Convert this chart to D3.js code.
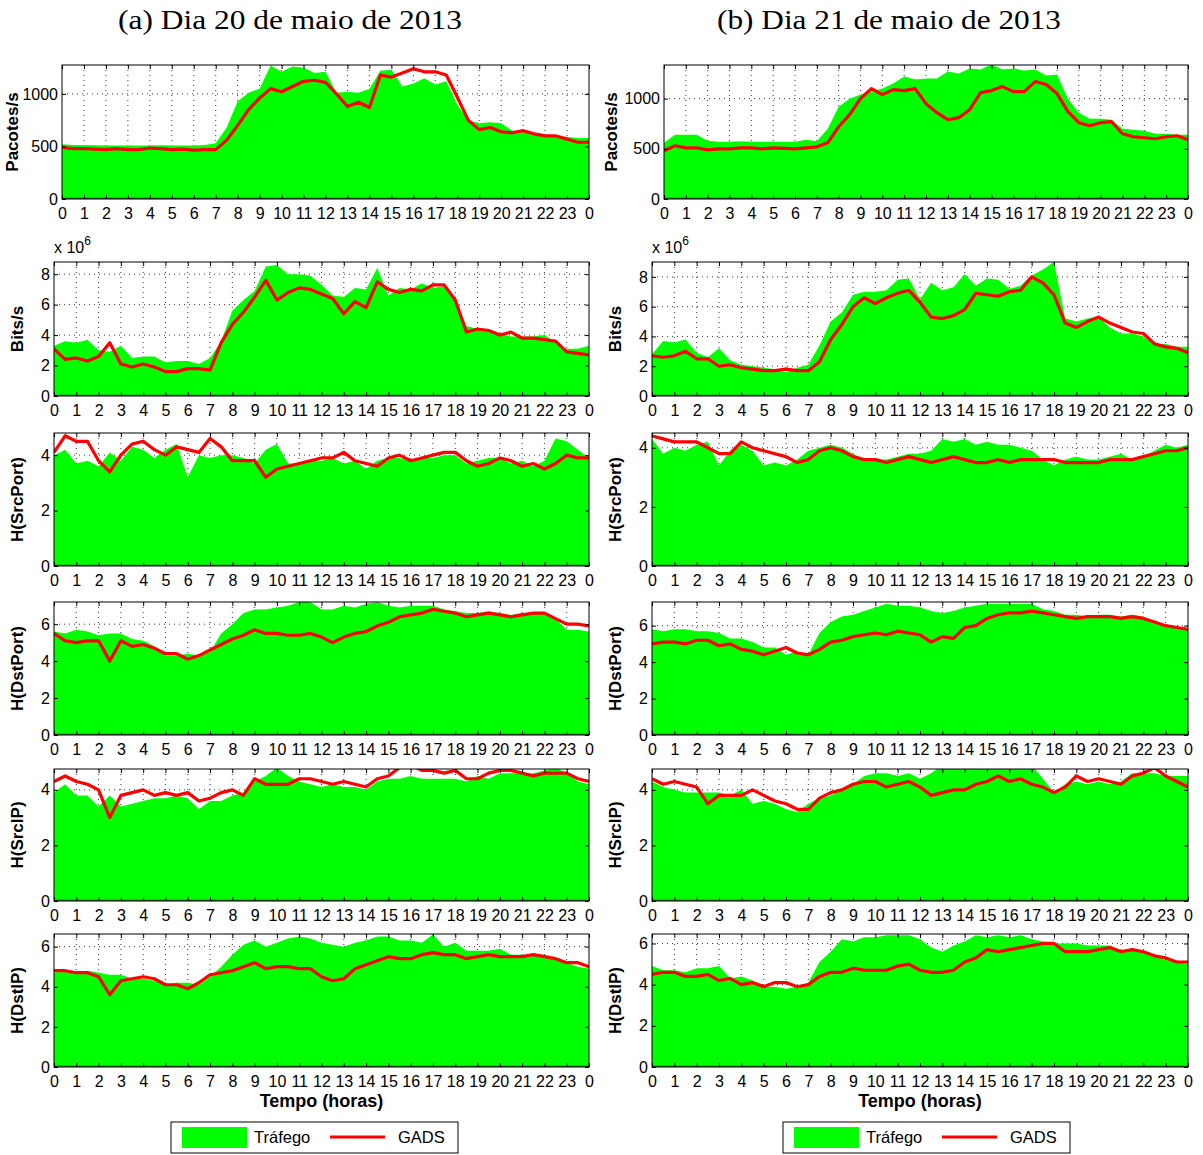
<!DOCTYPE html>
<html>
<head>
<meta charset="utf-8">
<script src="https://cdn.jsdelivr.net/npm/d3@7"></script>
<style>
  body { margin: 0; background: #fff; }
  svg { display: block; }
</style>
</head>
<body>
<div id="chart"></div>
<script>
// one value every half hour, 0h .. 24h (49 points per series)
var hourTicks = d3.range(0, 25);

// Pacotes/s
var pktTrafA = [520, 515, 515, 512, 510, 510, 508, 510, 510, 512, 510, 510,
  510, 515, 530, 680, 930, 1010, 1050, 1270, 1210, 1260, 1250, 1200,
  1210, 1010, 1020, 1010, 1050, 1220, 1230, 1070, 1100, 1150, 1090, 1120,
  900, 750, 720, 730, 720, 650, 640, 620, 610, 600, 590, 580, 580];
var pktGadsA = [490, 480, 480, 475, 470, 480, 470, 470, 485, 480, 470, 475,
  465, 470, 470, 560, 700, 850, 960, 1050, 1020, 1070, 1120, 1130,
  1110, 1000, 880, 920, 870, 1180, 1160, 1200, 1240, 1210, 1210, 1180,
  970, 750, 660, 680, 640, 630, 650, 620, 600, 600, 570, 540, 540];
var pktTrafB = [560, 640, 640, 640, 580, 570, 570, 575, 570, 570, 570, 570,
  570, 590, 575, 700, 920, 1000, 1040, 1070, 1100, 1150, 1220, 1190,
  1200, 1200, 1270, 1250, 1300, 1290, 1340, 1290, 1300, 1280, 1290, 1230,
  1240, 1000, 860, 800, 800, 790, 700, 690, 680, 650, 650, 640, 640];
var pktGadsB = [480, 530, 510, 510, 490, 500, 500, 510, 510, 500, 510, 505,
  500, 510, 520, 560, 720, 840, 1000, 1100, 1040, 1090, 1080, 1100,
  950, 860, 790, 810, 890, 1060, 1080, 1120, 1070, 1070, 1170, 1140,
  1050, 870, 760, 730, 760, 770, 650, 620, 610, 600, 620, 630, 590];

// Bits/s (x 10^6)
var bitTrafA = [3.3, 3.6, 3.5, 3.7, 3.0, 2.9, 3.3, 2.5, 2.6, 2.6, 2.2, 2.3,
  2.3, 2.1, 2.5, 3.6, 5.6, 6.3, 6.9, 8.5, 8.6, 8.0, 8.0, 7.9,
  7.3, 6.6, 6.5, 7.1, 7.0, 8.4, 6.6, 7.1, 7.0, 7.4, 7.1, 7.2,
  6.4, 4.6, 4.4, 4.4, 4.1, 3.9, 3.9, 3.9, 4.0, 3.5, 3.1, 3.1, 3.3];
var bitGadsA = [3.1, 2.4, 2.5, 2.3, 2.6, 3.5, 2.1, 1.9, 2.1, 1.9, 1.6, 1.6,
  1.8, 1.8, 1.7, 3.5, 4.7, 5.5, 6.5, 7.6, 6.3, 6.8, 7.1, 7.0,
  6.7, 6.4, 5.4, 6.2, 5.8, 7.5, 7.0, 6.8, 7.0, 6.9, 7.3, 7.3,
  6.3, 4.2, 4.4, 4.3, 4.0, 4.2, 3.8, 3.8, 3.7, 3.6, 2.9, 2.8, 2.7];
var bitTrafB = [2.8, 3.7, 3.6, 3.8, 2.9, 2.6, 3.2, 2.4, 2.1, 2.0, 1.9, 1.8,
  1.6, 1.9, 2.1, 3.4, 5.0, 5.6, 6.8, 7.0, 7.0, 7.1, 7.8, 7.9,
  6.5, 7.6, 7.1, 7.3, 8.2, 7.4, 7.9, 7.8, 7.2, 7.4, 8.1, 8.5,
  9.0, 5.2, 5.0, 5.2, 5.3, 4.6, 4.2, 4.2, 4.0, 3.5, 3.5, 3.3, 3.3];
var bitGadsB = [2.7, 2.6, 2.7, 3.0, 2.5, 2.5, 2.0, 2.1, 1.9, 1.8, 1.7, 1.7,
  1.8, 1.7, 1.7, 2.3, 3.8, 4.8, 6.0, 6.6, 6.2, 6.6, 6.9, 7.1,
  6.3, 5.3, 5.2, 5.4, 5.8, 6.9, 6.8, 6.7, 7.0, 7.1, 8.0, 7.6,
  6.8, 4.9, 4.6, 5.0, 5.3, 4.9, 4.6, 4.3, 4.2, 3.5, 3.3, 3.2, 2.9];

// H(SrcPort)
var srcPortTrafA = [4.0, 4.2, 3.7, 3.8, 3.6, 4.1, 3.8, 4.3, 4.2, 3.9, 4.2, 4.4,
  3.2, 4.0, 3.9, 4.0, 4.0, 3.9, 3.7, 4.2, 4.4, 3.7, 3.7, 3.8,
  3.8, 3.9, 3.7, 3.8, 3.5, 3.8, 3.9, 3.9, 3.8, 3.9, 3.9, 4.0,
  4.0, 3.7, 3.8, 3.9, 3.9, 3.7, 3.8, 3.6, 3.8, 4.6, 4.5, 4.2, 3.9];
var srcPortGadsA = [4.1, 4.7, 4.5, 4.5, 3.8, 3.4, 4.0, 4.4, 4.5, 4.2, 4.0, 4.3,
  4.2, 4.1, 4.6, 4.3, 3.8, 3.8, 3.8, 3.2, 3.5, 3.6, 3.7, 3.8,
  3.9, 3.9, 4.1, 3.8, 3.7, 3.6, 3.9, 4.0, 3.8, 3.9, 4.0, 4.1,
  4.1, 3.8, 3.6, 3.7, 3.9, 3.8, 3.6, 3.7, 3.5, 3.7, 4.0, 3.9, 3.9];
var srcPortTrafB = [4.3, 3.8, 4.0, 3.9, 4.1, 4.2, 3.4, 3.9, 4.1, 3.9, 3.4, 3.5,
  3.4, 3.6, 3.9, 4.0, 4.1, 4.0, 3.8, 3.6, 3.6, 3.6, 3.7, 3.8,
  3.8, 3.9, 4.3, 4.2, 4.3, 4.1, 4.2, 4.1, 4.1, 4.0, 3.9, 3.6,
  3.4, 3.6, 3.7, 3.6, 3.6, 3.7, 3.8, 3.6, 3.7, 3.9, 4.1, 4.0, 4.1];
var srcPortGadsB = [4.4, 4.3, 4.2, 4.2, 4.2, 4.0, 3.8, 3.8, 4.2, 4.0, 3.9, 3.8,
  3.7, 3.5, 3.6, 3.9, 4.0, 3.9, 3.7, 3.6, 3.6, 3.5, 3.6, 3.7,
  3.6, 3.5, 3.6, 3.7, 3.6, 3.5, 3.5, 3.6, 3.5, 3.6, 3.6, 3.6,
  3.6, 3.5, 3.5, 3.5, 3.5, 3.6, 3.6, 3.6, 3.7, 3.8, 3.9, 3.9, 4.0];

// H(DstPort)
var dstPortTrafA = [5.6, 5.5, 5.7, 5.6, 5.4, 5.5, 5.5, 5.2, 5.1, 4.8, 4.3, 4.3,
  4.4, 4.3, 4.5, 5.5, 6.0, 6.6, 6.8, 6.8, 6.9, 7.0, 7.2, 7.2,
  6.8, 6.8, 7.0, 6.9, 7.1, 7.2, 7.0, 6.9, 7.0, 7.0, 7.0, 6.8,
  6.7, 6.6, 6.6, 6.7, 6.6, 6.5, 6.6, 6.6, 6.6, 6.3, 5.7, 5.7, 5.6];
var dstPortGadsA = [5.5, 5.1, 5.0, 5.1, 5.1, 4.0, 5.1, 4.8, 4.9, 4.7, 4.4, 4.4,
  4.1, 4.3, 4.6, 4.9, 5.2, 5.4, 5.7, 5.5, 5.5, 5.4, 5.4, 5.5,
  5.3, 5.0, 5.3, 5.5, 5.6, 5.9, 6.1, 6.4, 6.5, 6.6, 6.8, 6.7,
  6.6, 6.4, 6.5, 6.6, 6.5, 6.4, 6.5, 6.6, 6.6, 6.3, 6.0, 6.0, 5.9];
var dstPortTrafB = [5.8, 5.7, 5.8, 5.8, 5.7, 5.7, 5.6, 5.3, 5.3, 5.1, 4.8, 4.8,
  4.4, 4.6, 4.4, 5.6, 6.2, 6.5, 6.6, 6.8, 7.0, 7.2, 7.1, 7.1,
  7.0, 6.8, 6.7, 6.8, 7.0, 7.1, 7.2, 7.2, 7.2, 7.2, 7.2, 6.9,
  6.8, 6.6, 6.6, 6.5, 6.6, 6.6, 6.5, 6.6, 6.5, 6.2, 6.0, 5.9, 5.8];
var dstPortGadsB = [5.0, 5.1, 5.1, 5.0, 5.2, 5.2, 4.9, 5.0, 4.7, 4.6, 4.4, 4.6,
  4.8, 4.5, 4.4, 4.7, 5.1, 5.2, 5.4, 5.5, 5.6, 5.5, 5.7, 5.6,
  5.5, 5.1, 5.4, 5.3, 5.9, 6.0, 6.4, 6.6, 6.7, 6.7, 6.8, 6.7,
  6.6, 6.5, 6.4, 6.5, 6.5, 6.5, 6.4, 6.5, 6.4, 6.2, 6.0, 5.9, 5.8];

// H(SrcIP)
var srcIpTrafA = [3.9, 4.2, 3.8, 3.8, 3.4, 3.8, 3.4, 3.5, 3.6, 3.7, 3.7, 3.8,
  3.7, 3.3, 3.6, 3.6, 3.8, 3.9, 4.3, 4.5, 4.8, 4.5, 4.3, 4.2,
  4.1, 4.2, 4.1, 4.1, 4.0, 4.3, 4.4, 4.4, 4.5, 4.4, 4.4, 4.4,
  4.4, 4.3, 4.5, 4.4, 4.6, 4.6, 4.6, 4.6, 4.7, 4.8, 4.6, 4.3, 4.2];
var srcIpGadsA = [4.3, 4.5, 4.3, 4.2, 4.0, 3.0, 3.8, 3.9, 4.0, 3.8, 3.9, 3.8,
  3.9, 3.6, 3.7, 3.9, 4.0, 3.8, 4.4, 4.2, 4.2, 4.2, 4.4, 4.4,
  4.3, 4.2, 4.3, 4.2, 4.1, 4.4, 4.5, 4.8, 4.9, 4.7, 4.7, 4.6,
  4.7, 4.4, 4.4, 4.6, 4.7, 4.7, 4.6, 4.5, 4.6, 4.6, 4.6, 4.4, 4.3];
var srcIpTrafB = [4.3, 4.1, 4.0, 3.9, 3.9, 3.9, 3.9, 3.8, 4.0, 3.5, 3.6, 3.5,
  3.3, 3.2, 3.5, 3.7, 3.8, 4.0, 4.2, 4.5, 4.6, 4.6, 4.5, 4.6,
  4.4, 4.6, 4.9, 4.8, 4.8, 4.8, 4.9, 4.9, 4.9, 4.8, 4.9, 4.4,
  3.9, 4.2, 4.3, 4.2, 4.3, 4.2, 4.3, 4.6, 4.6, 4.6, 4.5, 4.5, 4.5];
var srcIpGadsB = [4.4, 4.2, 4.3, 4.2, 4.1, 3.5, 3.8, 3.8, 3.8, 4.0, 3.8, 3.6,
  3.5, 3.3, 3.3, 3.7, 3.9, 4.0, 4.2, 4.3, 4.3, 4.1, 4.2, 4.3,
  4.1, 3.8, 3.9, 4.0, 4.0, 4.2, 4.3, 4.5, 4.3, 4.4, 4.2, 4.1,
  3.9, 4.1, 4.5, 4.3, 4.4, 4.3, 4.2, 4.5, 4.6, 4.8, 4.5, 4.3, 4.1];

// H(DstIP)
var dstIpTrafA = [4.7, 4.8, 4.7, 4.8, 4.7, 4.6, 4.6, 4.4, 4.4, 4.3, 4.1, 4.2,
  4.2, 4.1, 4.5, 5.0, 5.6, 6.1, 6.3, 6.0, 6.2, 6.4, 6.5, 6.4,
  6.2, 6.1, 6.0, 6.2, 6.3, 6.5, 6.5, 6.3, 6.3, 6.2, 6.6, 6.0,
  6.2, 5.8, 5.8, 5.8, 5.9, 5.6, 5.6, 5.6, 5.6, 5.4, 5.2, 5.0, 4.9];
var dstIpGadsA = [4.8, 4.8, 4.7, 4.7, 4.5, 3.6, 4.3, 4.4, 4.5, 4.4, 4.1, 4.1,
  3.9, 4.2, 4.6, 4.7, 4.8, 5.0, 5.2, 4.9, 5.0, 5.0, 4.9, 4.9,
  4.5, 4.3, 4.4, 4.9, 5.1, 5.3, 5.5, 5.4, 5.4, 5.6, 5.7, 5.6,
  5.6, 5.4, 5.5, 5.6, 5.5, 5.5, 5.5, 5.6, 5.5, 5.4, 5.2, 5.2, 5.0];
var dstIpTrafB = [4.9, 4.7, 4.7, 4.6, 4.8, 4.8, 4.9, 4.3, 4.4, 4.2, 3.9, 3.9,
  3.8, 3.9, 4.1, 5.1, 5.6, 6.2, 6.1, 6.3, 6.3, 6.4, 6.4, 6.4,
  6.2, 5.8, 5.6, 5.9, 6.1, 6.4, 6.3, 6.4, 6.3, 6.4, 6.2, 6.1,
  6.0, 6.0, 6.0, 5.9, 5.9, 5.9, 5.7, 5.7, 5.6, 5.4, 5.2, 5.1, 5.0];
var dstIpGadsB = [4.5, 4.6, 4.6, 4.4, 4.4, 4.5, 4.2, 4.3, 4.0, 4.1, 3.9, 4.1,
  4.1, 3.9, 4.0, 4.4, 4.6, 4.6, 4.8, 4.7, 4.7, 4.7, 4.9, 5.0,
  4.7, 4.6, 4.6, 4.7, 5.1, 5.3, 5.7, 5.6, 5.7, 5.8, 5.9, 6.0,
  6.0, 5.6, 5.6, 5.6, 5.7, 5.8, 5.6, 5.7, 5.6, 5.4, 5.3, 5.1, 5.1];

var rowLabels = ["Pacotes/s", "Bits/s", "H(SrcPort)", "H(DstPort)", "H(SrcIP)", "H(DstIP)"];
var yTickSets = [[0, 500, 1000], [0, 2, 4, 6, 8], [0, 2, 4], [0, 2, 4, 6], [0, 2, 4], [0, 2, 4, 6]];
var yMaxA = [1275, 8.8, 4.8, 7.2, 4.75, 6.63];
var yMaxB = [1335, 9.0, 4.5, 7.3, 4.75, 6.46];
var titles = ["(a) Dia 20 de maio de 2013", "(b) Dia 21 de maio de 2013"];
var legendNames = ["Tráfego", "GADS"];

var trafA = [pktTrafA, bitTrafA, srcPortTrafA, dstPortTrafA, srcIpTrafA, dstIpTrafA];
var gadsA = [pktGadsA, bitGadsA, srcPortGadsA, dstPortGadsA, srcIpGadsA, dstIpGadsA];
var trafB = [pktTrafB, bitTrafB, srcPortTrafB, dstPortTrafB, srcIpTrafB, dstIpTrafB];
var gadsB = [pktGadsB, bitGadsB, srcPortGadsB, dstPortGadsB, srcIpGadsB, dstIpGadsB];

// layout (pixels)
var rowTops = [65, 262, 433, 602, 769, 934];
var rowBottoms = [199, 396, 566, 735, 901, 1067];
var cols = [
  {left: [62, 54, 54, 54, 54, 54], right: 589, labelX: [18, 23, 23, 23, 23, 23], titleX: 290, traf: trafA, gads: gadsA, yMax: yMaxA, legendX: 171},
  {left: [664, 652, 652, 652, 652, 652], right: 1188, labelX: [617, 621, 621, 621, 621, 621], titleX: 889, traf: trafB, gads: gadsB, yMax: yMaxB, legendX: 783}
];

var GREEN = "#00ff00";
var RED = "#ff0000";
var sansFont = "'Liberation Sans', Arial, Helvetica, sans-serif";

var svg = d3.select("#chart")
  .append("svg")
  .attr("width", 1203)
  .attr("height", 1155)
  .style("font-family", sansFont);

svg.append("rect").attr("width", 1203).attr("height", 1155).attr("fill", "#fff");

var clipId = 0;

function drawPanel(col, r) {
  var x0 = col.left[r], x1 = col.right, y0 = rowTops[r], y1 = rowBottoms[r];
  var w = x1 - x0, h = y1 - y0;
  var vals = col.traf[r], gads = col.gads[r];
  var pts = vals.map(function(v, i) { return {t: i * 0.5, v: v, g: gads[i]}; });

  var x = d3.scaleLinear().domain([0, 24]).range([0, w]);
  var y = d3.scaleLinear().domain([0, col.yMax[r]]).range([h, 0]);

  var g = svg.append("g").attr("transform", "translate(" + x0 + "," + y0 + ")");

  clipId++;
  g.append("clipPath").attr("id", "clip" + clipId)
    .append("rect").attr("width", w).attr("height", h);

  // dotted grid
  var grid = g.append("g")
    .attr("stroke", "#000")
    .attr("stroke-width", 0.8)
    .attr("stroke-dasharray", "1,4");
  grid.selectAll("line.v")
    .data(hourTicks.slice(1, 24))
    .enter().append("line")
    .attr("class", "v")
    .attr("x1", function(d) { return x(d); })
    .attr("x2", function(d) { return x(d); })
    .attr("y1", 0).attr("y2", h);
  grid.selectAll("line.h")
    .data(yTickSets[r].slice(1))
    .enter().append("line")
    .attr("class", "h")
    .attr("x1", 0).attr("x2", w)
    .attr("y1", function(d) { return y(d); })
    .attr("y2", function(d) { return y(d); });

  var plot = g.append("g").attr("clip-path", "url(#clip" + clipId + ")");

  var area = d3.area()
    .x(function(d) { return x(d.t); })
    .y0(h)
    .y1(function(d) { return y(d.v); });
  plot.append("path")
    .datum(pts)
    .attr("d", area)
    .attr("fill", GREEN);

  // dark baseline under the area
  plot.append("line")
    .attr("x1", 0).attr("x2", w)
    .attr("y1", h - 0.5).attr("y2", h - 0.5)
    .attr("stroke", "#006400")
    .attr("stroke-width", 1.5);

  var line = d3.line()
    .x(function(d) { return x(d.t); })
    .y(function(d) { return y(d.g); });
  plot.append("path")
    .datum(pts)
    .attr("d", line)
    .attr("fill", "none")
    .attr("stroke", RED)
    .attr("stroke-width", 3.2)
    .attr("stroke-linejoin", "round");

  // axes, ticks pointing inside
  var xAxis = d3.axisBottom(x)
    .tickValues(hourTicks)
    .tickFormat(function(d) { return d % 24; })
    .tickSizeInner(-4)
    .tickSizeOuter(0)
    .tickPadding(9);
  var ax = g.append("g").attr("transform", "translate(0," + h + ")").call(xAxis);
  ax.select(".domain").remove();
  ax.selectAll("text").attr("font-size", 16).attr("font-family", sansFont).attr("fill", "#000");

  g.append("g")
    .call(d3.axisTop(x).tickValues(hourTicks).tickSizeInner(-4).tickSizeOuter(0).tickFormat(""))
    .select(".domain").remove();

  var yAxis = d3.axisLeft(y)
    .tickValues(yTickSets[r])
    .tickFormat(function(d) { return String(d); })
    .tickSizeInner(-4)
    .tickSizeOuter(0)
    .tickPadding(4);
  var ay = g.append("g").call(yAxis);
  ay.select(".domain").remove();
  ay.selectAll("text").attr("font-size", 16).attr("font-family", sansFont).attr("fill", "#000");

  g.append("g").attr("transform", "translate(" + w + ",0)")
    .call(d3.axisRight(y).tickValues(yTickSets[r]).tickSizeInner(-4).tickSizeOuter(0).tickFormat(""))
    .select(".domain").remove();

  g.append("rect")
    .attr("width", w).attr("height", h)
    .attr("fill", "none")
    .attr("stroke", "#000")
    .attr("stroke-width", 1);

  // y label
  svg.append("text")
    .attr("transform", "translate(" + col.labelX[r] + "," + (y0 + h / 2) + ") rotate(-90)")
    .attr("text-anchor", "middle")
    .attr("font-size", 17)
    .attr("font-weight", "bold")
    .text(rowLabels[r]);

  if (r === 1) {
    var ex = svg.append("text")
      .attr("x", x0)
      .attr("y", y0 - 9)
      .attr("font-size", 16)
      .text("x 10");
    ex.append("tspan")
      .attr("dy", -8)
      .attr("font-size", 12)
      .text("6");
  }
}

cols.forEach(function(col, c) {
  for (var r = 0; r < 6; r++) {
    drawPanel(col, r);
  }

  svg.append("text")
    .attr("x", col.titleX)
    .attr("y", 29)
    .attr("text-anchor", "middle")
    .attr("font-family", "'Liberation Serif', 'DejaVu Serif', serif")
    .attr("font-size", 28)
    .attr("textLength", 344)
    .attr("lengthAdjust", "spacingAndGlyphs")
    .text(titles[c]);

  var plotMid = (col.left[5] + col.right) / 2;
  svg.append("text")
    .attr("x", plotMid)
    .attr("y", 1107)
    .attr("text-anchor", "middle")
    .attr("font-size", 18)
    .attr("font-weight", "bold")
    .text("Tempo (horas)");

  // legend
  var lg = svg.append("g").attr("transform", "translate(" + col.legendX + ",1122)");
  lg.append("rect")
    .attr("width", 287).attr("height", 31)
    .attr("fill", "#fff").attr("stroke", "#000").attr("stroke-width", 1);
  lg.append("rect")
    .attr("x", 11).attr("y", 5).attr("width", 65).attr("height", 21)
    .attr("fill", GREEN);
  lg.append("text")
    .attr("x", 83).attr("y", 21)
    .attr("font-size", 16.5)
    .text(legendNames[0]);
  lg.append("line")
    .attr("x1", 159).attr("x2", 214)
    .attr("y1", 15).attr("y2", 15)
    .attr("stroke", RED).attr("stroke-width", 3);
  lg.append("text")
    .attr("x", 227).attr("y", 21)
    .attr("font-size", 16.5)
    .text(legendNames[1]);
});
</script>
</body>
</html>
